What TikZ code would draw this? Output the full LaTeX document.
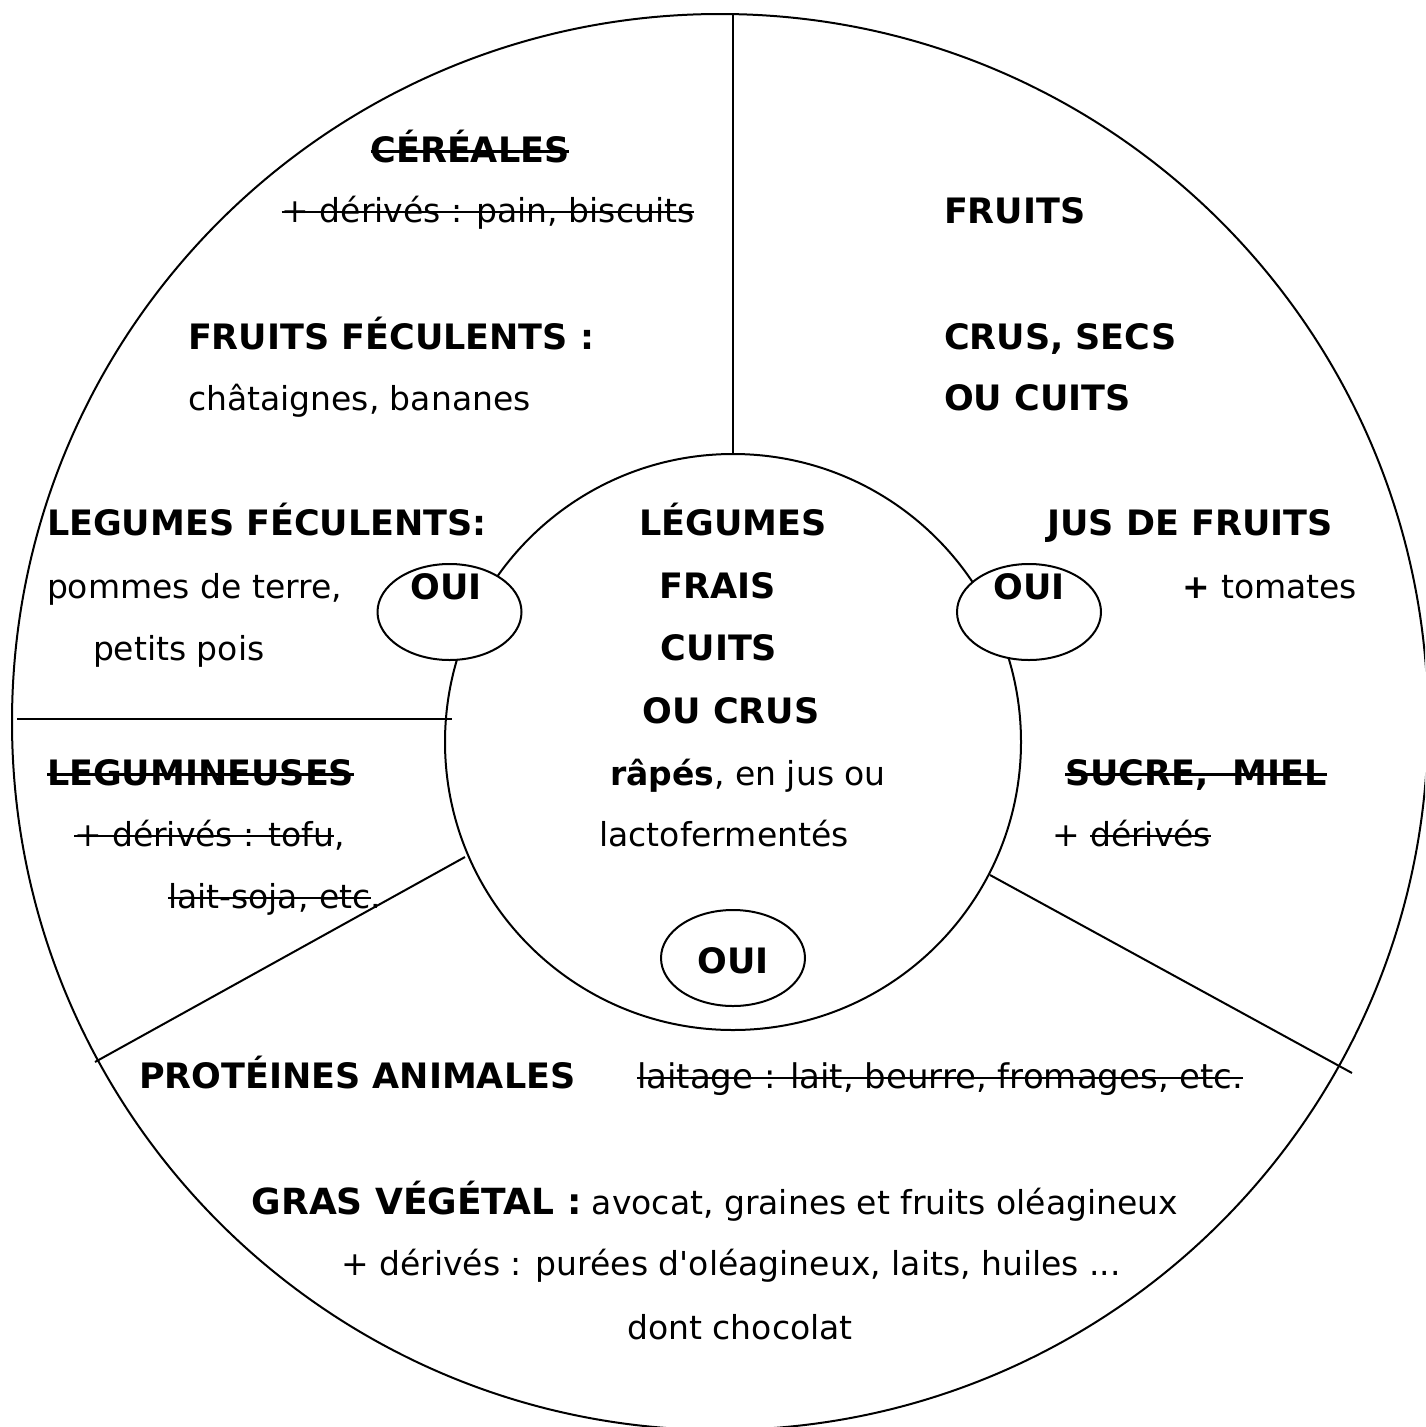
\documentclass[tikz,border=0pt]{standalone}
\usepackage{fontspec}
\setmainfont{DejaVu Sans}[Ligatures=TeXOff]
\usetikzlibrary{shapes.geometric}
\newsavebox\strkbox
\newcommand\strk[1]{\sbox\strkbox{#1}\rlap{\rule[\dimexpr0.55ex-1.2pt\relax]{\wd\strkbox}{2.4pt}}\usebox\strkbox}
\begin{document}
\begin{tikzpicture}[x=1pt,y=-1pt,line width=2pt,
  txt/.style={inner sep=0pt,font=\fontsize{33}{40}\selectfont},
  btxt/.style={inner sep=0pt,font=\fontsize{35}{42}\selectfont\bfseries},
  ring/.style={circle,draw,inner sep=0pt},
  ouiring/.style={ellipse,draw,fill=white,inner sep=0pt,minimum width=144pt,minimum height=96pt}]
\useasboundingbox (0,0) rectangle (1425,1427);
\clip (0,0) rectangle (1425,1427);
% circles
\node[ring,minimum size=1416pt] (big) at (720,722) {};
\node[ring,minimum size=576pt] (inner) at (733,742) {};
% dividers
\coordinate (vtop) at (733,15);
\coordinate (vbot) at (733,453);
\coordinate (hl) at (17,719);
\coordinate (hr) at (452,719);
\coordinate (dl1) at (465,857);
\coordinate (dl2) at (95,1062);
\coordinate (dr1) at (990,875);
\coordinate (dr2) at (1352,1073);
\draw (vtop) -- (vbot);
\draw (hl) -- (hr);
\draw (dl1) -- (dl2);
\draw (dr1) -- (dr2);
% OUI ellipses
\node[ouiring] (eL) at (449.5,612) {};
\node[ouiring] (eR) at (1029,612) {};
\node[ouiring] (eB) at (733,958) {};
\node[btxt,anchor=base] (ouiL) at (446,599) {OUI};
\node[btxt,anchor=base] (ouiR) at (1029,599) {OUI};
\node[btxt,anchor=base] (ouiB) at (733,973) {OUI};
% top-left
\node[btxt,anchor=base] (cer) at (470,162) {\strk{CÉRÉALES}};
\node[txt,anchor=base] (cerd) at (488,222) {\strk{+ dérivés : pain, biscuits}};
\node[btxt,anchor=base west] (ff) at (187,349) {FRUITS FÉCULENTS :};
\node[txt,anchor=base west] (ffd) at (187,410) {châtaignes, bananes};
% left
\node[btxt,anchor=base west] (lf) at (46,535) {LEGUMES FÉCULENTS:};
\node[txt,anchor=base west] (lfd1) at (46,598) {pommes de terre,};
\node[txt,anchor=base west] (lfd2) at (92,660) {petits pois};
\node[btxt,anchor=base west] (leg) at (46,785) {\strk{LEGUMINEUSES}};
\node[txt,anchor=base west] (legd1) at (73,846) {\strk{+ dérivés : tofu},};
\node[txt,anchor=base west] (legd2) at (167,908) {\strk{lait-soja, etc}.};
% centre
\node[btxt,anchor=base] (lg1) at (733,535) {LÉGUMES};
\node[btxt,anchor=base] (lg2) at (718,598) {FRAIS};
\node[btxt,anchor=base] (lg3) at (719,660) {CUITS};
\node[btxt,anchor=base] (lg4) at (731,723) {OU CRUS};
\node[txt,anchor=base] (lg5) at (748,785) {\textbf{râpés}, en jus ou};
\node[txt,anchor=base] (lg6) at (724,846) {lactofermentés};
% right
\node[btxt,anchor=base west] (fr1) at (943,223) {FRUITS};
\node[btxt,anchor=base west] (fr2) at (943,349) {CRUS, SECS};
\node[btxt,anchor=base west] (fr3) at (943,410) {OU CUITS};
\node[btxt,anchor=base] (jus) at (1190,535) {JUS DE FRUITS};
\node[txt,anchor=base] (tom) at (1270,598) {\textbf{+} tomates};
\node[btxt,anchor=base] (suc) at (1196,785) {\strk{SUCRE,\ \ MIEL}};
\node[txt,anchor=base west] (sucd) at (1051,846) {+ \strk{dérivés}};
% bottom
\node[btxt,anchor=base west] (prot) at (138,1088) {PROTÉINES ANIMALES};
\node[txt,anchor=base west,font=\fontsize{34}{40}\selectfont] (lait) at (636,1088) {\strk{laitage : lait, beurre, fromages, etc.}};
\node[txt,anchor=base] (gras) at (715,1214) {{\fontsize{36}{42}\selectfont\bfseries GRAS VÉGÉTAL :} avocat, graines et fruits oléagineux};
\node[txt,anchor=base] (grasd) at (731,1275) {+ dérivés : purées d'oléagineux, laits, huiles ...};
\node[txt,anchor=base] (choc) at (740,1339) {dont chocolat};
\end{tikzpicture}
\end{document}
